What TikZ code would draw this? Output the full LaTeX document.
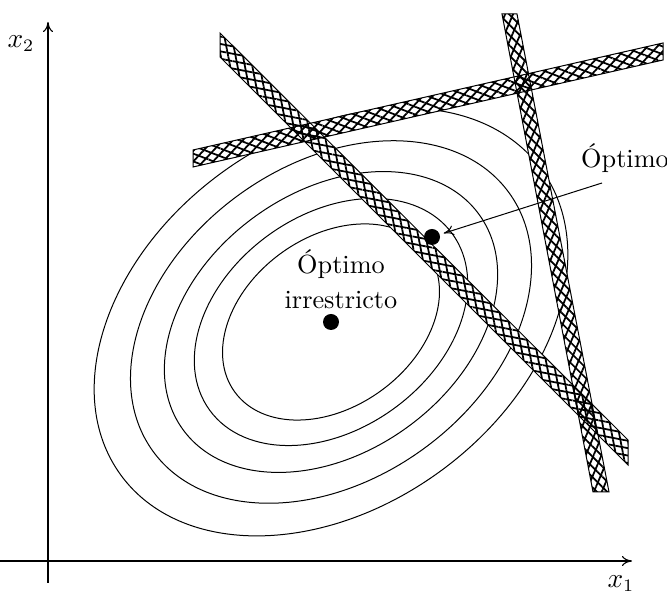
\documentclass[tikz,border=0pt]{standalone}
\usepackage{tikz}
\usetikzlibrary{arrows.meta,patterns.meta}
\tikzset{
  axis/.style={-{To[length=4pt,width=4pt]}, line width=0.45pt},
  level/.style={line width=0.4pt},
  band/.style={draw=black, line width=0.4pt},
  hatch/.style={pattern={Lines[angle=#1,distance=2.9pt,line width=0.7pt]}},
  dot/.style={circle, fill=black, inner sep=0pt, minimum size=6.4pt},
  lbl/.style={align=center, inner sep=0pt, font=\fontsize{10.5}{12}\selectfont},
}

\begin{document}
\begin{tikzpicture}[x=0.4pt,y=0.4pt]
\useasboundingbox (0,0) rectangle (667,592);
% axes
\coordinate (xfrom) at (0,31);
\coordinate (xto) at (632,31);
\coordinate (yfrom) at (48,9);
\coordinate (yto) at (48,570);
\draw[axis] (xfrom) -- (xto);
\draw[axis] (yfrom) -- (yto);
\node[lbl] (xlab) at (621,8) {$x_1$};
\node[lbl] (ylab) at (21,548) {$x_2$};
% level curves
\coordinate (centre) at (331,270);
\foreach \a/\b in {260/185,220/157,183/130,150/107,119/85}
  \draw[level, rotate around={36:(centre)}] (centre) ellipse [x radius=\a, y radius=\b];
% constraints
\coordinate (A1) at (220,559); \coordinate (A2) at (628,152);
\coordinate (A3) at (628,127); \coordinate (A4) at (220,535);
\coordinate (B1) at (193,442); \coordinate (B2) at (663,549);
\coordinate (B3) at (663,532); \coordinate (B4) at (193,425);
\coordinate (C1) at (502,578); \coordinate (C2) at (517,578);
\coordinate (C3) at (609,100); \coordinate (C4) at (593,100);
\foreach \c in {A,B,C}
  \fill[white] (\c1) -- (\c2) -- (\c3) -- (\c4) -- cycle;
\foreach \c/\u/\v in {A/-11/-79,B/47/-21,C/-45/67}{
  \fill[hatch=\u] (\c1) -- (\c2) -- (\c3) -- (\c4) -- cycle;
  \draw[band, hatch=\v] (\c1) -- (\c2) -- (\c3) -- (\c4) -- cycle;
}
% optima
\node[dot] (uopt) at (centre) {};
\node[dot] (copt) at (432,355) {};
\node[lbl] (ulab) at (341,313) {Óptimo\\[2pt]irrestricto};
\node[lbl] (clab) at (625,434) {Óptimo};
\coordinate (tail) at (602,409);
\draw[-{To[length=4pt,width=4pt]}, line width=0.4pt, shorten >=1.5pt] (tail) -- (copt);
\end{tikzpicture}
\end{document}
